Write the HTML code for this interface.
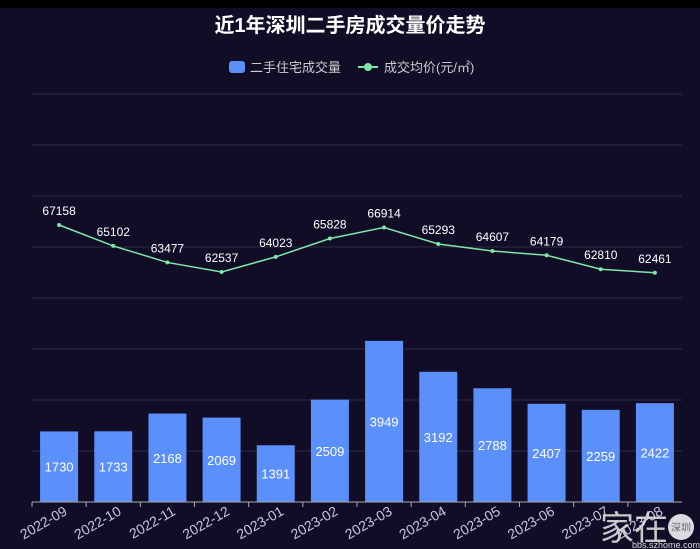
<!DOCTYPE html>
<html><head><meta charset="utf-8"><style>
html,body{margin:0;padding:0;background:#110d27;}
svg{display:block;font-family:"Liberation Sans","Noto Sans CJK SC",sans-serif;}
</style></head><body>
<svg width="700" height="549" viewBox="0 0 700 549">
<rect width="700" height="549" fill="#110d27"/>
<rect width="700" height="8" fill="#000"/>
<text x="350" y="32" text-anchor="middle" font-size="20" font-weight="bold" fill="#fff">近1年深圳二手房成交量价走势</text>
<rect x="229" y="61" width="16" height="12" rx="3" fill="#5b8ff9"/>
<text x="250" y="72" font-size="13" fill="#ccc">二手住宅成交量</text>
<line x1="358" y1="67" x2="378" y2="67" stroke="#7fe7a8" stroke-width="2"/>
<circle cx="368" cy="67" r="4" fill="#7fe7a8"/>
<text x="384" y="72" font-size="13" fill="#ccc">成交均价(元/㎡)</text>
<g stroke="#2f2b48" stroke-width="1">
<line x1="32" x2="682" y1="94" y2="94"/><line x1="32" x2="682" y1="145" y2="145"/>
<line x1="32" x2="682" y1="196" y2="196"/><line x1="32" x2="682" y1="247" y2="247"/>
<line x1="32" x2="682" y1="298" y2="298"/><line x1="32" x2="682" y1="349" y2="349"/>
<line x1="32" x2="682" y1="400" y2="400"/><line x1="32" x2="682" y1="451" y2="451"/>
</g>
<g id="bars"></g>
<line x1="32" x2="682" y1="502" y2="502" stroke="#aaa" stroke-width="1"/>
<g id="rest"></g>
<text x="600" y="540" font-size="34" fill="#ddd" opacity="0.9">家在</text>
<circle cx="681" cy="527" r="13" fill="#fff" opacity="0.85"/>
<text x="681" y="531" text-anchor="middle" font-size="10" fill="#666">深圳</text>
<text x="632" y="548" font-size="9" fill="#ddd">bbs.szhome.com</text>
</svg>
<script>
var vol=[1730,1733,2168,2069,1391,2509,3949,3192,2788,2407,2259,2422];
var pr=[67158,65102,63477,62537,64023,65828,66914,65293,64607,64179,62810,62461];
var lab=["2022-09","2022-10","2022-11","2022-12","2023-01","2023-02","2023-03","2023-04","2023-05","2023-06","2023-07","2023-08"];
var w=650/12,s="",r="",pts=[];
for(var i=0;i<12;i++){var cx=32+w*(i+0.5),h=vol[i]*51/1250,t=502-h;
s+='<rect x="'+(cx-19)+'" y="'+t+'" width="38" height="'+h+'" fill="#5b8ff9"/>';
s+='<text x="'+cx+'" y="'+(t+h/2+5)+'" text-anchor="middle" font-size="13" fill="#fff">'+vol[i]+'</text>';
var y=225+(67158-pr[i])*0.01017;pts.push(cx+','+y);
r+='<circle cx="'+cx+'" cy="'+y+'" r="2" fill="#7fe7a8"/>';
r+='<text x="'+cx+'" y="'+(y-10)+'" text-anchor="middle" font-size="12" fill="#fff">'+pr[i]+'</text>';
r+='<line x1="'+(32+w*i)+'" x2="'+(32+w*i)+'" y1="502" y2="507" stroke="#aaa"/>';
r+='<text transform="translate('+(cx+9)+',514) rotate(-30)" text-anchor="end" font-size="14" fill="#c8c4dc">'+lab[i]+'</text>';}
r='<polyline points="'+pts.join(' ')+'" fill="none" stroke="#7fe7a8" stroke-width="1.5"/>'+r;
document.getElementById('bars').innerHTML=s;document.getElementById('rest').innerHTML=r;
</script>
</body></html>
